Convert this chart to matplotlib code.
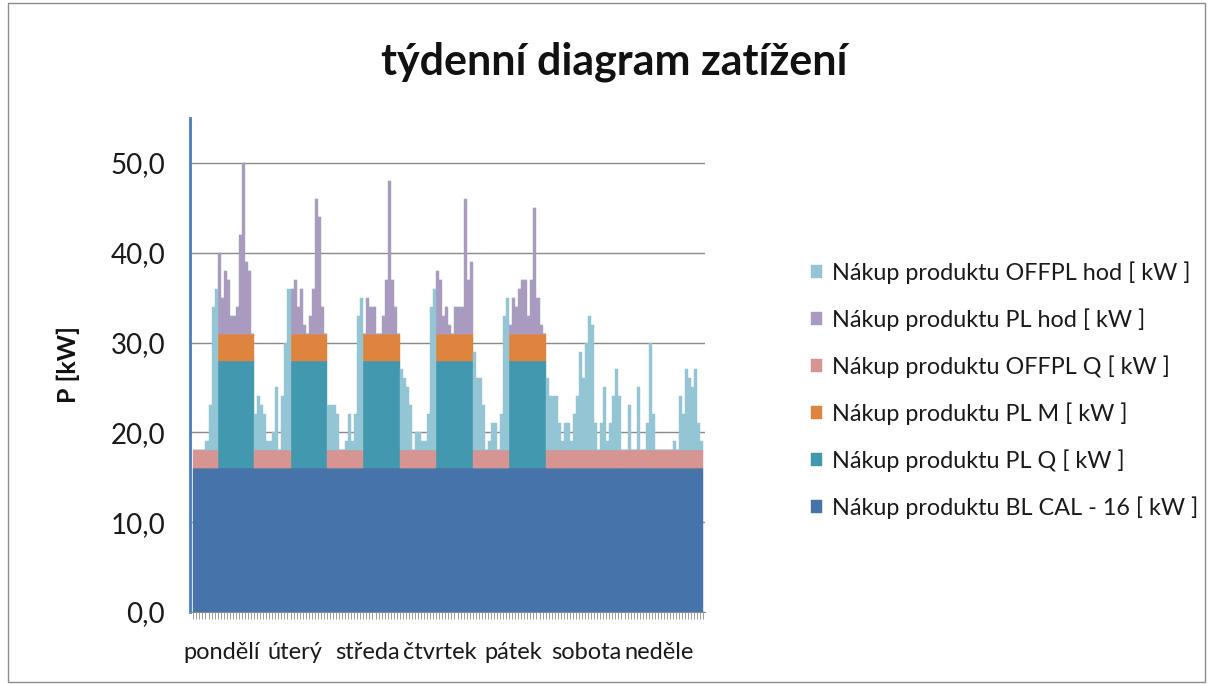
import numpy as np
import matplotlib
matplotlib.use("Agg")
import matplotlib.pyplot as plt
from matplotlib.patches import Rectangle
from matplotlib.transforms import blended_transform_factory

plt.rcParams["font.family"] = ["Lato", "DejaVu Sans"]

title = "týdenní diagram zatížení"
ylabel = "P [kW]"
days = ["pondělí", "úterý", "středa", "čtvrtek", "pátek", "sobota", "neděle"]

# hourly total load [kW], hours 0..23 for each day
load_mon = [18, 18, 18, 18, 19, 23, 34, 36, 40, 35, 38, 37, 33, 33, 34, 42, 50, 39, 38, 31, 22, 24, 23, 22]
load_tue = [19, 19, 20, 25, 18, 24, 30, 36, 36, 37, 34, 36, 32, 31, 33, 36, 46, 44, 34, 31, 23, 23, 23, 22]
load_wed = [18, 18, 19, 22, 19, 22, 33, 35, 31, 35, 34, 34, 31, 31, 33, 37, 48, 37, 34, 31, 27, 26, 25, 23]
load_thu = [18, 20, 20, 19, 19, 22, 34, 36, 38, 37, 33, 34, 32, 31, 34, 34, 34, 46, 37, 39, 29, 26, 26, 23]
load_fri = [18, 19, 21, 21, 18, 22, 33, 35, 32, 35, 34, 36, 37, 37, 33, 37, 45, 35, 32, 31, 26, 24, 24, 24]
load_sat = [21, 19, 21, 21, 19, 22, 24, 29, 26, 30, 33, 32, 21, 18, 21, 25, 19, 21, 24, 27, 24, 18, 18, 23]
load_sun = [18, 18, 25, 18, 18, 21, 30, 22, 18, 18, 18, 18, 18, 18, 19, 18, 24, 22, 27, 26, 25, 27, 21, 19]

# purchased products [kW]
bl_cal = 16      # base load, all hours
pl_q = 12        # peak quarter product, workday peak hours
pl_m = 3         # peak month product, workday peak hours
offpl_q = 2      # off-peak quarter product, off-peak hours
peak_start, peak_end = 8, 20
n_workdays = 5

series_names = [
    "Nákup produktu BL CAL - 16 [ kW ]",
    "Nákup produktu PL Q [ kW ]",
    "Nákup produktu PL M [ kW ]",
    "Nákup produktu OFFPL Q [ kW ]",
    "Nákup produktu PL hod [ kW ]",
    "Nákup produktu OFFPL hod [ kW ]",
]
series_colors = ["#4674AA", "#4298AF", "#DF843E", "#D69593", "#A99BC0", "#94C5D5"]

load = np.array(load_mon + load_tue + load_wed + load_thu + load_fri + load_sat + load_sun, dtype=float)
hours = np.arange(len(load))
hour_of_day = hours % 24
day_idx = hours // 24
is_peak = (day_idx < n_workdays) & (hour_of_day >= peak_start) & (hour_of_day < peak_end)

s_bl = np.full(len(load), bl_cal, dtype=float)
s_plq = np.where(is_peak, pl_q, 0.0)
s_plm = np.where(is_peak, pl_m, 0.0)
s_offq = np.where(is_peak, 0.0, offpl_q)
s_plh = np.where(is_peak, np.maximum(load - bl_cal - pl_q - pl_m, 0), 0.0)
s_offh = np.where(is_peak, 0.0, np.maximum(load - bl_cal - offpl_q, 0))
stack = [s_bl, s_plq, s_plm, s_offq, s_plh, s_offh]

W, H = 1208, 684
fig = plt.figure(figsize=(W / 100, H / 100), dpi=100)
fig.patch.set_facecolor("white")
fig.patches.append(Rectangle((8 / W, 2 / H), (1205 - 8) / W, (681 - 2) / H,
                             transform=fig.transFigure, fill=False,
                             edgecolor="#8c8c8c", linewidth=1.0))

ax = fig.add_axes([190 / W, 1 - 612 / H, (705 - 190) / W, (612 - 118) / H])

bottom = np.zeros(len(load))
handles = []
for vals, name, col in zip(stack, series_names, series_colors):
    bars = ax.bar(hours, vals, width=1.0, bottom=bottom, color=col,
                  edgecolor=col, linewidth=0.3, label=name, zorder=2)
    handles.append(bars)
    bottom = bottom + vals

ax.set_xlim(-1.6, 168.0)
ax.set_ylim(0, 55)

ax.set_yticks(np.arange(0, 51, 10))
ax.set_yticklabels([f"{v:.1f}".replace(".", ",") for v in np.arange(0, 51, 10)])
ax.tick_params(axis="y", length=0, pad=18, labelsize=20, labelcolor="#1a1a1a")
ax.yaxis.grid(True, color="#8a8a8a", linewidth=1.0, zorder=0)
ax.set_axisbelow(True)

ax.set_xticks(np.arange(-0.5, 168, 1))
ax.set_xticklabels([])
ax.tick_params(axis="x", length=5, width=0.6, color="#8a8a8a", direction="out")

for side in ("top", "right"):
    ax.spines[side].set_visible(False)
ax.spines["bottom"].set_color("#8a8a8a")
ax.spines["left"].set_color("#4A7EBB")
ax.spines["left"].set_linewidth(2.0)

# day names sit slightly left of each day's midpoint
trans = blended_transform_factory(ax.transData, ax.transAxes)
for d, name in enumerate(days):
    ax.text(24 * d + 8.8, -0.082, name, transform=trans, ha="center", va="center",
            fontsize=17, color="#1a1a1a")

fig.text(614 / W, 1 - 62 / H, title, ha="center", va="center",
         fontsize=31, fontweight="bold", color="#111111")
fig.text(68 / W, 1 - 365 / H, ylabel, rotation=90, ha="center", va="center",
         fontsize=18, fontweight="bold", color="#111111")

fig.legend(handles[::-1], series_names[::-1], loc="center left",
           bbox_to_anchor=(799 / W, 1 - 390 / H), frameon=False,
           fontsize=16.8, handlelength=0.5, handleheight=0.5,
           handletextpad=0.4, labelspacing=1.04, borderpad=0,
           labelcolor="#1a1a1a")

fig.savefig("out.png", dpi=100)
